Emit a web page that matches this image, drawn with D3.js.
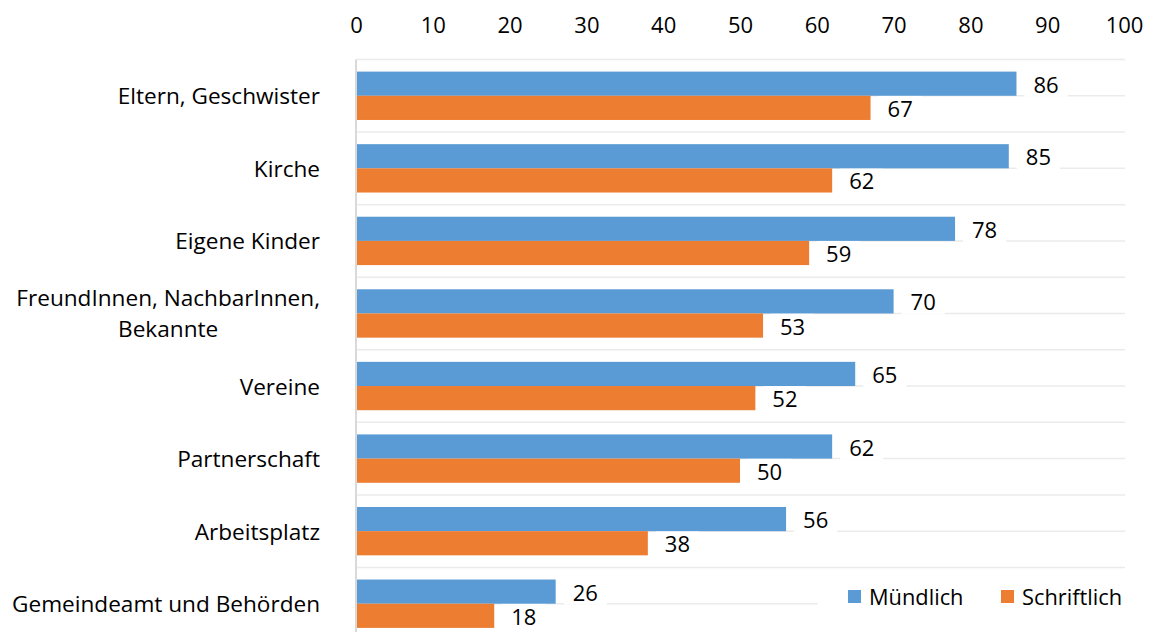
<!DOCTYPE html>
<html>
<head>
<meta charset="utf-8">
<script src="https://cdn.jsdelivr.net/npm/d3@7"></script>
<style>
  body { margin: 0; background: #fff; }
  text { font-family: "Open Sans", sans-serif; fill: #000; }
</style>
</head>
<body>
<div id="chart"></div>
<script>
// chart data
const categories = ["Eltern, Geschwister", "Kirche", "Eigene Kinder",
  "FreundInnen, NachbarInnen,|Bekannte", "Vereine", "Partnerschaft",
  "Arbeitsplatz", "Gemeindeamt und Behörden"];
const seriesNames = ["Mündlich", "Schriftlich"];
const muendlich = [86, 85, 78, 70, 65, 62, 56, 26];
const schriftlich = [67, 62, 59, 53, 52, 50, 38, 18];
const xTicks = [0, 10, 20, 30, 40, 50, 60, 70, 80, 90, 100];

const colors = ["#5B9BD5", "#ED7D31"];
const width = 1152, height = 632;
const fontSize = 22;

const svg = d3.select("#chart").append("svg")
  .attr("width", width)
  .attr("height", height);

// scales
const x = d3.scaleLinear().domain([0, 100]).range([356, 1124]);
const y = d3.scaleBand().domain(d3.range(categories.length)).range([59.5, 640]);
const ySub = d3.scaleBand().domain([0, 1]).range([12.1, y.bandwidth() - 12.1]);

const data = [];
categories.forEach((c, i) => {
  data.push({i: i, s: 0, v: muendlich[i]});
  data.push({i: i, s: 1, v: schriftlich[i]});
});

// gridlines at band edges and centers
const gridYs = [];
y.domain().forEach(i => {
  gridYs.push(y(i));
  gridYs.push(y(i) + y.bandwidth() / 2);
});
svg.append("g").selectAll("line")
  .data(gridYs)
  .enter().append("line")
    .attr("x1", x(0)).attr("x2", x(100) + 1)
    .attr("y1", d => d).attr("y2", d => d)
    .attr("stroke", "#ebebeb")
    .attr("stroke-width", 1.5);

// white boxes behind value labels (they hide the grid)
const labelBoxes = svg.append("g");

// bars
svg.append("g").selectAll("rect")
  .data(data)
  .enter().append("rect")
    .attr("x", x(0))
    .attr("y", d => y(d.i) + ySub(d.s))
    .attr("width", d => x(d.v) - x(0))
    .attr("height", ySub.bandwidth())
    .attr("fill", d => colors[d.s]);

// left axis line
svg.append("line")
  .attr("x1", x(0)).attr("x2", x(0))
  .attr("y1", 59.5).attr("y2", 640)
  .attr("stroke", "#d9d9d9")
  .attr("stroke-width", 2);

// top axis
const xAxis = svg.append("g")
  .attr("transform", "translate(0,33)")
  .call(d3.axisTop(x).tickValues(xTicks).tickSize(0).tickPadding(0));
xAxis.select(".domain").remove();
xAxis.selectAll("text")
  .attr("font-size", fontSize)
  .attr("font-family", "Open Sans, sans-serif")
  .attr("fill", "#000");

// category labels
const labelRight = 320;
categories.forEach((c, i) => {
  const lines = c.split("|");
  const cy = y(i) + y.bandwidth() / 2;
  const g = svg.append("g");
  const texts = lines.map((ln, k) => g.append("text")
    .attr("y", cy + (k - (lines.length - 1) / 2) * 31)
    .attr("dominant-baseline", "central")
    .attr("font-size", 22.6)
    .text(ln));
  if (lines.length === 1) {
    texts[0].attr("x", labelRight).attr("text-anchor", "end");
  } else {
    const w = d3.max(texts, t => t.node().getComputedTextLength());
    texts.forEach(t => t.attr("x", labelRight - w / 2).attr("text-anchor", "middle"));
  }
});

// value labels
data.forEach(d => {
  const by = y(d.i) + ySub(d.s);
  const t = svg.append("text")
    .attr("x", x(d.v) + 17)
    .attr("y", by + ySub.bandwidth() / 2)
    .attr("dominant-baseline", "central")
    .attr("font-size", fontSize)
    .text(d.v);
  const tw = t.node().getComputedTextLength();
  labelBoxes.append("rect")
    .attr("x", x(d.v) + 8)
    .attr("y", by - 1)
    .attr("width", tw + 18)
    .attr("height", ySub.bandwidth() + 2)
    .attr("fill", "#fff");
});

// legend
const legend = svg.append("g");
legend.append("rect")
  .attr("x", 818).attr("y", 584)
  .attr("width", 312).attr("height", 26)
  .attr("fill", "#fff");
const legendX = [848, 1001];
seriesNames.forEach((s, k) => {
  legend.append("rect")
    .attr("x", legendX[k]).attr("y", 590)
    .attr("width", 13).attr("height", 13)
    .attr("fill", colors[k]);
  legend.append("text")
    .attr("x", legendX[k] + 21)
    .attr("y", 596.5)
    .attr("dominant-baseline", "central")
    .attr("font-size", 21.8)
    .text(s);
});
</script>
</body>
</html>
